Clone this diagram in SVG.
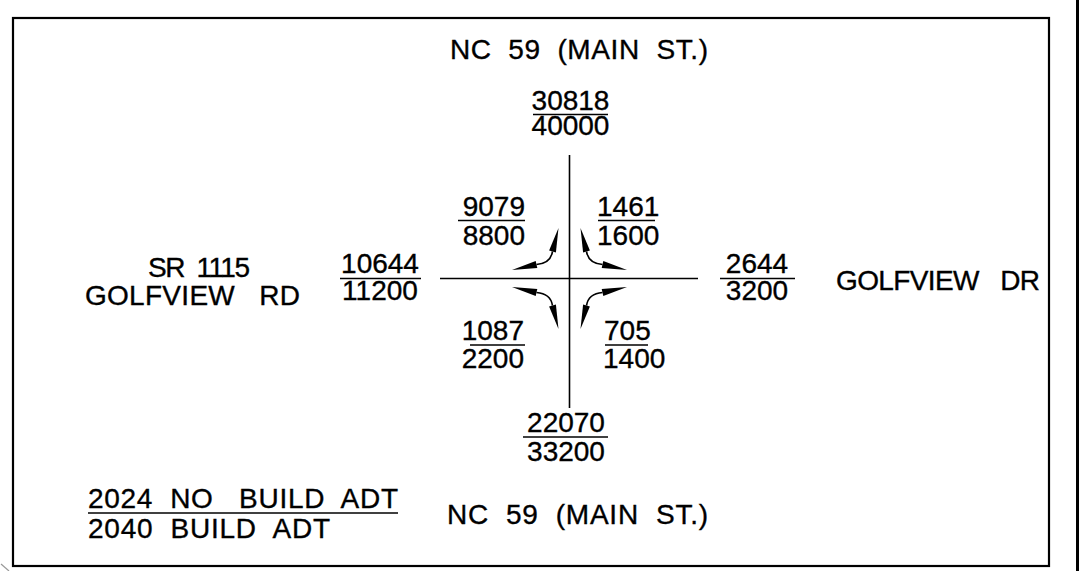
<svg xmlns="http://www.w3.org/2000/svg" width="1079" height="571" viewBox="0 0 1079 571">
<style>
text{font-family:"Liberation Sans",Arial,sans-serif;font-size:28px;fill:#000;stroke:#000;stroke-width:0.35;white-space:pre}
.m{text-anchor:middle}
.e{text-anchor:end}
.ln{stroke:#000;stroke-width:1.6;fill:none}
.bar{stroke:#000;stroke-width:1.6}
.frame{stroke:#000;stroke-width:2.2;fill:#fff}
</style>
<defs>
<g id="turn">
<path d="M-33,-14 Q-19,-15 -17,-27" class="ln"/>
<polygon points="-57.5,-8.5 -32.2,-10.6 -33.8,-17.4" fill="#000"/>
<polygon points="-11,-50.5 -13.6,-26.1 -20.4,-27.9" fill="#000"/>
</g>
</defs>
<rect width="1079" height="571" fill="#fff"/>
<rect class="frame" x="13" y="18" width="1036" height="548"/>
<line x1="1077.5" y1="0" x2="1077.5" y2="571" stroke="#000" stroke-width="3"/>
<line x1="1" y1="564" x2="9" y2="571" stroke="#999" stroke-width="1.2"/>
<g id="connectors">
<line class="ln" x1="569.5" y1="155" x2="569.5" y2="408"/>
<line class="ln" x1="440" y1="278.5" x2="698" y2="278.5"/>
<g transform="translate(569.5,278.5)">
<use href="#turn"/>
<use href="#turn" transform="scale(-1,1)"/>
<use href="#turn" transform="scale(1,-1)"/>
<use href="#turn" transform="scale(-1,-1)"/>
</g>
</g>
<g id="label-north">
<text x="450" y="59" textLength="258" lengthAdjust="spacing" xml:space="preserve">NC  59  (MAIN  ST.)</text>
</g>
<g id="adt-north">
<text class="m" x="570.5" y="110">30818</text>
<line class="bar" x1="533" y1="114.5" x2="608" y2="114.5"/>
<text class="m" x="570.5" y="135">40000</text>
</g>
<g id="turn-nw">
<text class="e" x="525" y="216">9079</text>
<line class="bar" x1="458" y1="220.5" x2="525" y2="220.5"/>
<text class="e" x="525" y="245">8800</text>
</g>
<g id="turn-ne">
<text x="597" y="216">1461</text>
<line class="bar" x1="598" y1="220.5" x2="655" y2="220.5"/>
<text x="597" y="245">1600</text>
</g>
<g id="label-west">
<text x="148" y="277" textLength="102" lengthAdjust="spacing" xml:space="preserve">SR  1115</text>
<text x="85" y="305" textLength="215" lengthAdjust="spacing" xml:space="preserve">GOLFVIEW   RD</text>
</g>
<g id="adt-west">
<text class="m" x="380" y="273">10644</text>
<line class="bar" x1="340" y1="278.5" x2="421" y2="278.5"/>
<text class="m" x="380" y="300">11200</text>
</g>
<g id="adt-east">
<text class="m" x="757" y="273">2644</text>
<line class="bar" x1="720" y1="278.5" x2="795" y2="278.5"/>
<text class="m" x="757" y="300">3200</text>
</g>
<g id="label-east">
<text x="836" y="290" textLength="204" lengthAdjust="spacing" xml:space="preserve">GOLFVIEW   DR</text>
</g>
<g id="turn-sw">
<text class="e" x="524" y="340">1087</text>
<line class="bar" x1="470" y1="345" x2="525" y2="345"/>
<text class="e" x="524" y="368">2200</text>
</g>
<g id="turn-se">
<text x="604" y="340">705</text>
<line class="bar" x1="605" y1="345" x2="648" y2="345"/>
<text x="603" y="368">1400</text>
</g>
<g id="adt-south">
<text class="m" x="566" y="432">22070</text>
<line class="bar" x1="523" y1="437" x2="608" y2="437"/>
<text class="m" x="566" y="461">33200</text>
</g>
<g id="legend">
<text x="88" y="508" textLength="310" lengthAdjust="spacing" xml:space="preserve">2024  NO   BUILD  ADT</text>
<line class="bar" x1="88" y1="513" x2="398" y2="513"/>
<text x="88" y="538" textLength="242" lengthAdjust="spacing" xml:space="preserve">2040  BUILD  ADT</text>
</g>
<g id="label-south">
<text x="447" y="524" textLength="261" lengthAdjust="spacing" xml:space="preserve">NC  59  (MAIN  ST.)</text>
</g>
</svg>
